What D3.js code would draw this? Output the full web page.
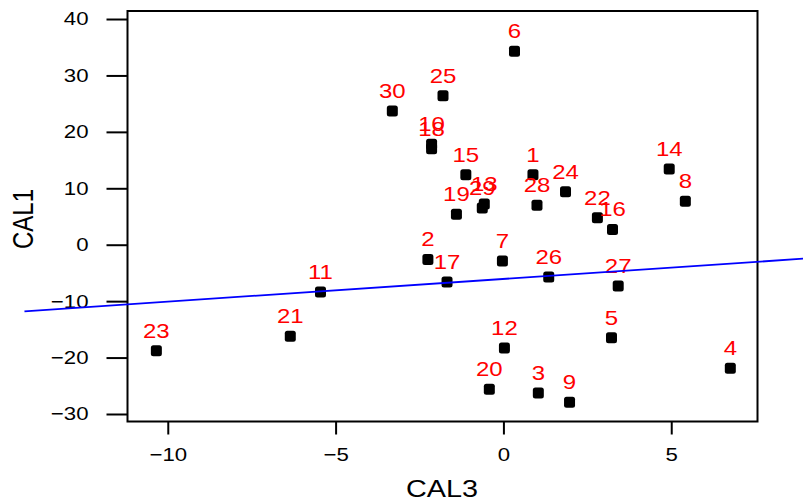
<!DOCTYPE html>
<html><head><meta charset="utf-8">
<script src="https://cdn.jsdelivr.net/npm/d3@7"></script>
<style>html,body{margin:0;padding:0;background:#fff;}svg{display:block;font-family:"Liberation Sans",Arial,sans-serif;}</style>
</head><body>
<svg id="c" width="803" height="501"></svg>
<script>
const ids = ["1","2","3","4","5","6","7","8","9","10","11","12","13","14","15","16","17","18","19","20","21","22","23","24","25","26","27","28","29","30"];
const cal3 = [0.88,-2.25,1.04,6.76,3.22,0.33,-0.03,5.42,1.97,-2.14,-5.45,0.03,-0.57,4.94,-1.12,3.25,-1.68,-2.14,-1.40,-0.42,-6.35,2.80,-10.34,1.85,-1.80,1.35,3.42,1.00,-0.63,-3.31];
const cal1 = [12.4,-2.6,-26.3,-21.9,-16.5,34.3,-2.9,7.7,-27.9,17.8,-8.4,-18.3,7.2,13.4,12.4,2.7,-6.6,17.0,5.4,-25.6,-16.2,4.8,-18.8,9.4,26.4,-5.7,-7.3,7.0,6.5,23.7];
const xTicks = [-10,-5,0,5];
const yTicks = [-30,-20,-10,0,10,20,30,40];
const fitIntercept = -6.07, fitSlope = 0.402;
const fitRange = [-14.27, 8.97];

const svg = d3.select("#c");
const L = 127.5, R = 757.5, T = 11, B = 421.5;
const x = d3.scaleLinear().domain([-11.20, 7.57]).range([L, R]);
const y = d3.scaleLinear().domain([-31.33, 41.42]).range([B, T]);
const SX = 1.2;

// y axis
const yAx = svg.append("g").attr("transform", `translate(${L},0)`)
  .call(d3.axisLeft(y).tickValues(yTicks).tickSize(21).tickPadding(18).tickFormat(d3.format("d")));
yAx.select(".domain").remove();
yAx.selectAll("line").attr("stroke","#000").attr("stroke-width",2);
yAx.selectAll("text").attr("font-size",18.5).attr("fill","#000")
  .attr("font-family","Liberation Sans, Arial, sans-serif")
  .each(function(){ const t=d3.select(this); const xx=+t.attr("x"); t.attr("x",null).attr("transform",`translate(${xx},0) scale(${SX},1)`); });

// x axis
const xAx = svg.append("g").attr("transform", `translate(0,${B})`)
  .call(d3.axisBottom(x).tickValues(xTicks).tickSize(13).tickPadding(13).tickFormat(d3.format("d")));
xAx.select(".domain").remove();
xAx.selectAll("line").attr("stroke","#000").attr("stroke-width",2);
xAx.selectAll("text").attr("font-size",18.5).attr("fill","#000")
  .attr("font-family","Liberation Sans, Arial, sans-serif")
  .each(function(){ const t=d3.select(this); const yy=+t.attr("y"); t.attr("y",null).attr("transform",`translate(0,${yy}) scale(${SX},1)`); });

// box
svg.append("rect").attr("x",L).attr("y",T).attr("width",R-L).attr("height",B-T)
  .attr("fill","none").attr("stroke","#000").attr("stroke-width",2);

// titles
svg.append("text").attr("transform",`translate(442,497) scale(${SX},1)`).attr("text-anchor","middle")
  .attr("font-size",24).text("CAL3");
svg.append("text").attr("transform",`translate(33,219) scale(${SX},1) rotate(-90)`).attr("text-anchor","middle")
  .attr("font-size",24).text("CAL1");

// points
const data = ids.map((id,i)=>({id, x:cal3[i], y:cal1[i]}));
svg.append("g").selectAll("rect").data(data).join("rect")
  .attr("x",d=>x(d.x)-5.5).attr("y",d=>y(d.y)-5.5).attr("width",11).attr("height",11)
  .attr("rx",2.5).attr("fill","#000");

// labels
svg.append("g").selectAll("text").data(data).join("text")
  .attr("transform",d=>`translate(${x(d.x)},${y(d.y)-13}) scale(${SX},1)`)
  .attr("text-anchor","middle").attr("font-size",20).attr("fill","#ff0000").text(d=>d.id);

// fitted line (extends beyond plot region)
svg.append("line")
  .attr("x1",x(fitRange[0])).attr("y1",y(fitIntercept+fitSlope*fitRange[0]))
  .attr("x2",x(fitRange[1])).attr("y2",y(fitIntercept+fitSlope*fitRange[1]))
  .attr("stroke","#0000ff").attr("stroke-width",1.8);
</script>
</body></html>
